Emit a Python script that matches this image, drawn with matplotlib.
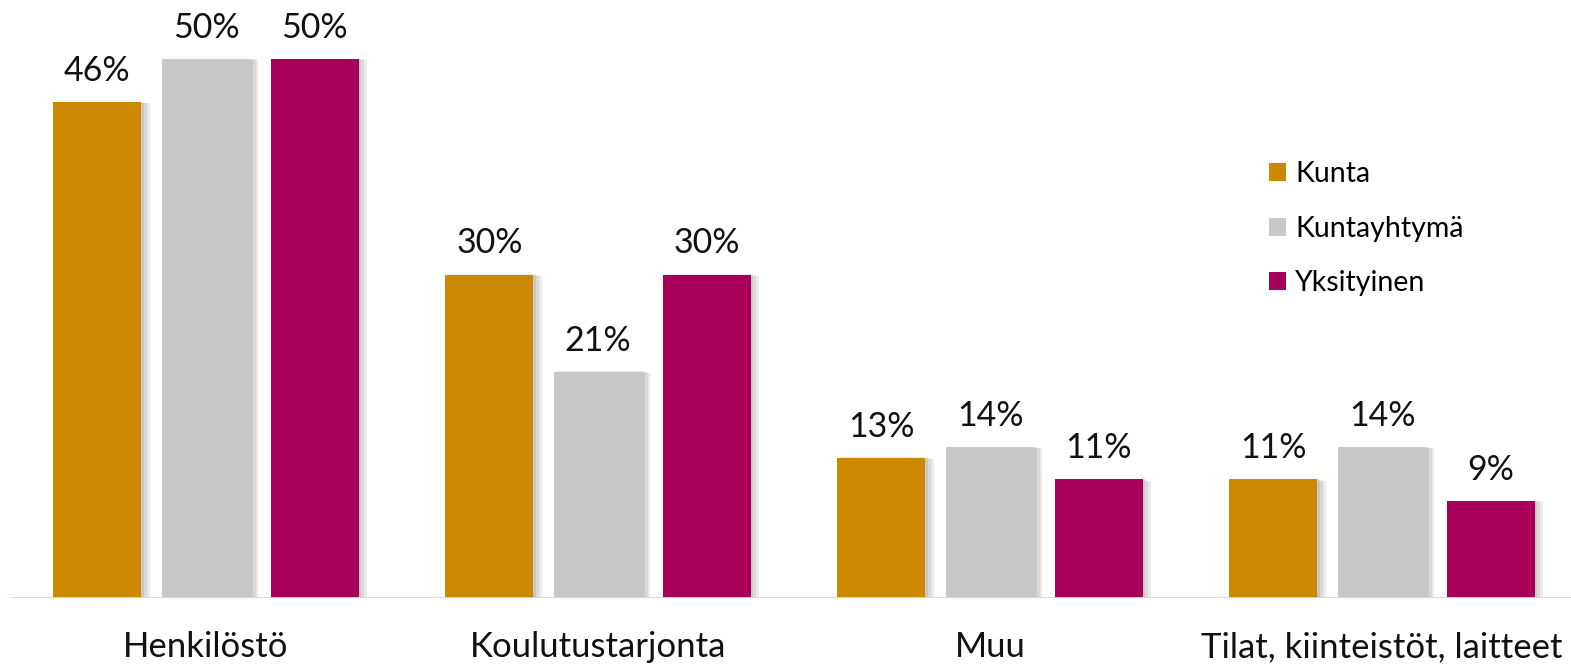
import matplotlib
matplotlib.use("Agg")
import matplotlib.pyplot as plt
import matplotlib.patheffects as pe
from matplotlib.patches import Patch
import numpy as np

categories = ["Henkilöstö", "Koulutustarjonta", "Muu", "Tilat, kiinteistöt, laitteet"]
series = ["Kunta", "Kuntayhtymä", "Yksityinen"]
kunta = [46, 30, 13, 11]
kuntayhtyma = [50, 21, 14, 14]
yksityinen = [50, 30, 11, 9]
colors = ["#CC8800", "#C8C8C8", "#A8005A"]

plt.rcParams["font.family"] = ["Lato", "DejaVu Sans"]

fig = plt.figure(figsize=(15.71, 6.65), dpi=100)
ax = fig.add_axes([10 / 1571, 67 / 665, 1561 / 1571, 598 / 665])

x = np.arange(len(categories))
w = 0.2245
step = 0.277
# soft shadow: a few faint layers
shadow = [pe.SimplePatchShadow(offset=(o, 1 - o / 3), shadow_rgbFace="#606060", alpha=0.13)
          for o in (2, 4, 6)] + [pe.Normal()]
for i, (name, vals) in enumerate(zip(series, [kunta, kuntayhtyma, yksityinen])):
    bars = ax.bar(x + (i - 1) * step, vals, w, color=colors[i], zorder=2)
    for b in bars:
        b.set_path_effects(shadow)
    for xi, v in zip(x + (i - 1) * step, vals):
        ax.text(xi, v + 1.4, f"{v}%", ha="center", va="bottom", fontsize=24.5, color="#111111")

ax.set_xlim(-0.5, 3.482)
ax.set_ylim(0, 55.47)
ax.axhline(0, color="#F8C8E0", lw=2, zorder=3)
for s in ax.spines.values():
    s.set_visible(False)
ax.set_yticks([])
ax.set_xticks(x)
ax.set_xticklabels(categories, fontsize=25, color="#111111")
ax.tick_params(axis="x", length=0, pad=24)

handles = [Patch(facecolor=c, label=n) for c, n in zip(colors, series)]
ax.legend(handles=handles, loc="upper left", bbox_to_anchor=(1248 / 1561, 1 - 150 / 598),
          frameon=False, fontsize=20.5, handlelength=0.6, handleheight=0.6,
          handletextpad=0.3, labelspacing=1.0, borderaxespad=0)

fig.savefig("out.png", dpi=100)
